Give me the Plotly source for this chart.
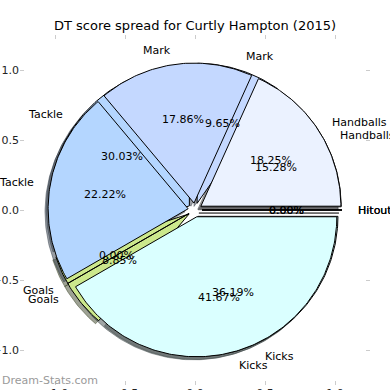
import math
import plotly.graph_objects as go

# ---- data -------------------------------------------------------------
labels = ['Handballs', 'Mark', 'Tackle', 'Goals', 'Kicks', 'Hitout']
values_2015 = [18.25, 17.86, 22.22, 0.00, 41.67, 0.00]      # top pie
values_career = [15.28, 9.65, 30.03, 8.85, 36.19, 0.00]     # pie underneath
colors = ['#EBF2FF', '#C4D8FF', '#B4D6FF', '#CCE88C', '#DAFFFF', '#C8C8C8']
tick_vals = [-1.0, -0.5, 0.0, 0.5, 1.0]
tick_text = ['\u22121.0', '\u22120.5', '0.0', '0.5', '1.0']
title = 'DT score spread for Curtly Hampton (2015)'
watermark = 'Dream-Stats.com'

# ---- pie geometry (matplotlib-like) ----------------------------------
EXPLODE = 0.05
RADIUS = 1.0
LABEL_DIST = 1.1
PCT_DIST = 0.6
SHADOW_OFF = -0.022
FONT = 'DejaVu Sans'


def hex_rgb(h):
    h = h.lstrip('#')
    return [int(h[i:i + 2], 16) for i in (0, 2, 4)]


def build_wedges(values):
    total = float(sum(values))
    theta1 = 0.0
    out = []
    for lab, v, col in zip(labels, values, colors):
        theta2 = theta1 + 360.0 * v / total
        thetam = math.radians((theta1 + theta2) / 2.0)
        cx = EXPLODE * math.cos(thetam)
        cy = EXPLODE * math.sin(thetam)
        n = max(2, int(abs(theta2 - theta1) / 1.0) + 2)
        xs, ys = [cx], [cy]
        for i in range(n):
            t = math.radians(theta1 + (theta2 - theta1) * i / (n - 1))
            xs.append(cx + RADIUS * math.cos(t))
            ys.append(cy + RADIUS * math.sin(t))
        xs.append(cx)
        ys.append(cy)
        out.append(dict(label=lab, value=v, frac=v / total, color=col,
                        xs=xs, ys=ys, cx=cx, cy=cy, thetam=thetam))
        theta1 = theta2
    return out


pies = [build_wedges(values_career), build_wedges(values_2015)]

fig = go.Figure()

# shadows (drawn below all wedges)
for pie in pies:
    for w in pie:
        r, g, b = hex_rgb(w['color'])
        sc = 'rgba(%d,%d,%d,0.5)' % (0.3 * r, 0.3 * g, 0.3 * b)
        fig.add_trace(go.Scatter(
            x=[x + SHADOW_OFF for x in w['xs']],
            y=[y + SHADOW_OFF for y in w['ys']],
            mode='lines', fill='toself', fillcolor=sc,
            line=dict(color=sc, width=1), hoverinfo='skip', showlegend=False))

# wedges
for pie in pies:
    for w in pie:
        fig.add_trace(go.Scatter(
            x=w['xs'], y=w['ys'], mode='lines', fill='toself',
            fillcolor=w['color'], line=dict(color='black', width=1),
            hoverinfo='skip', showlegend=False))

annotations = []
for pie in pies:
    for w in pie:
        xt = w['cx'] + LABEL_DIST * RADIUS * math.cos(w['thetam'])
        yt = w['cy'] + LABEL_DIST * RADIUS * math.sin(w['thetam'])
        annotations.append(dict(
            x=xt, y=yt, xref='x', yref='y', text=w['label'], showarrow=False,
            xanchor='left' if xt > 0 else 'right', yanchor='middle',
            font=dict(family=FONT, size=11, color='black')))
        xp = w['cx'] + PCT_DIST * RADIUS * math.cos(w['thetam'])
        yp = w['cy'] + PCT_DIST * RADIUS * math.sin(w['thetam'])
        annotations.append(dict(
            x=xp, y=yp, xref='x', yref='y', text='%1.2f%%' % (100 * w['frac']),
            showarrow=False, xanchor='center', yanchor='middle',
            font=dict(family=FONT, size=11, color='black')))

annotations.append(dict(
    x=-20 / 350, y=5 / 350, xref='paper', yref='paper', text=watermark,
    showarrow=False, xanchor='left', yanchor='middle',
    font=dict(family=FONT, size=11, color='#9a9a9a')))

axis_common = dict(
    range=[-1.25, 1.25], tickvals=tick_vals, ticktext=tick_text,
    ticks='inside', ticklen=4, tickcolor='#cccccc', mirror='ticks',
    showline=False, showgrid=False, zeroline=False,
    tickfont=dict(family=FONT, size=11, color='#222222'), fixedrange=True)

fig.update_layout(
    width=390, height=390,
    margin=dict(l=20, r=20, t=35, b=5, autoexpand=False),
    paper_bgcolor='white', plot_bgcolor='white',
    xaxis=dict(axis_common),
    yaxis=dict(axis_common),
    title=dict(text=title, x=0.5, xanchor='center', y=1 - 25 / 390,
               yref='container', yanchor='middle',
               font=dict(family=FONT, size=13, color='black')),
    annotations=annotations,
    showlegend=False,
)

fig.write_html('out.html', config={'displayModeBar': False},
               post_script="document.body.style.margin='0';"
                           "document.body.style.overflow='hidden';")
